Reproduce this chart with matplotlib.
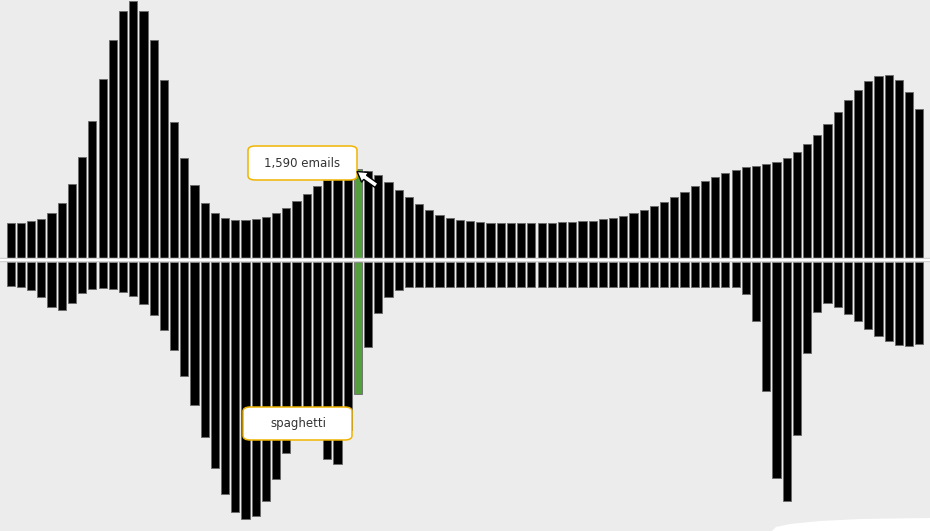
import numpy as np
import matplotlib
matplotlib.use('Agg')
import matplotlib.pyplot as plt
from matplotlib.patches import FancyBboxPatch, Polygon

# emails per bar (upper half)
emails = [617, 627, 658, 694, 797, 988, 1325, 1812, 2461, 3218,
          3927, 4444, 4630, 4439, 3916, 3200, 2448, 1799, 1302, 988,
          802, 707, 671, 671, 694, 730, 802, 892, 1013, 1145,
          1289, 1397, 1469, 1542, 1590, 1560, 1487, 1361, 1217, 1085,
          959, 856, 766, 712, 676, 658, 640, 627, 627, 627,
          622, 622, 622, 627, 640, 645, 658, 664, 694, 718,
          748, 797, 851, 923, 1001, 1091, 1181, 1284, 1374, 1451,
          1524, 1578, 1626, 1650, 1686, 1722, 1794, 1897, 2041, 2209,
          2412, 2623, 2840, 3020, 3182, 3272, 3285, 3195, 2979, 2677]

# "spaghetti" mentions per bar (lower half)
spaghetti = [427, 451, 499, 631, 806, 860, 728, 559, 481, 463,
             487, 535, 613, 746, 945, 1221, 1587, 2050, 2578, 3150,
             3703, 4178, 4502, 4634, 4580, 4304, 3907, 3438, 3114, 2988,
             3132, 3541, 3637, 3024, 2375, 1522, 920, 620, 494, 451,
             440, 440, 440, 440, 440, 440, 440, 440, 440, 440,
             440, 440, 440, 440, 440, 440, 440, 440, 440, 440,
             440, 440, 440, 440, 440, 440, 440, 440, 440, 440,
             445, 451, 566, 1064, 2320, 3889, 4304, 3119, 1641, 896,
             739, 806, 927, 1058, 1203, 1329, 1424, 1491, 1504, 1468]

highlight = 34
top_label = '1,590 emails'
bottom_label = 'spaghetti'

W, H = 930, 531
bg = '#ececec'
fig = plt.figure(figsize=(9.3, 5.31), dpi=100, facecolor=bg)
ax = fig.add_axes([0, 0, 1, 1])
ax.set_facecolor(bg)

x = np.arange(len(emails))
gap = 43
colors = ['black'] * len(emails)
colors[highlight] = '#559e3d'

ax.bar(x, emails, bottom=gap, width=0.8, color=colors,
       edgecolor='#6a6a6a', linewidth=0.6)
ax.bar(x, [-v for v in spaghetti], bottom=-gap, width=0.8, color=colors,
       edgecolor='#6a6a6a', linewidth=0.6)

ax.axhline(0, color='#d2d2d2', lw=3.2, zorder=3)
ax.axhline(0, color='white', lw=1.4, zorder=4)

ax.set_xlim(-1.048, 90.04)
ax.set_ylim(-4888, 4686)
ax.axis('off')


def px_box(x0, y0, x1, y1, text, tx, ty):
    box = FancyBboxPatch((x0 / W, 1 - y1 / H), (x1 - x0) / W, (y1 - y0) / H,
                         boxstyle='round,pad=0,rounding_size=0.008',
                         transform=fig.transFigure, facecolor='white',
                         edgecolor='#f0b400', linewidth=1.1, zorder=10)
    fig.patches.append(box)
    fig.text(tx / W, 1 - ty / H, text, ha='center', va='center',
             fontsize=8.5, color='#333333', zorder=11)


px_box(248, 146, 357, 180, top_label, 302, 163)
px_box(243, 407, 352, 440, bottom_label, 298, 423)

# mouse cursor
tip = np.array([357.0, 171.5])
d = np.array([21.0, 15.0])
d /= np.hypot(*d)
n = np.array([-d[1], d[0]])
pts = [tip, tip + 10 * d + 6 * n, tip + 10 * d + 2.5 * n, tip + 24 * d + 2.5 * n,
       tip + 24 * d - 2.5 * n, tip + 10 * d - 2.5 * n, tip + 10 * d - 6 * n]
pts = [(p[0] / W, 1 - p[1] / H) for p in pts]
fig.patches.append(Polygon(pts, closed=True, transform=fig.transFigure,
                           facecolor='white', edgecolor='black', lw=1.0, zorder=12))

# torn paper edge bottom right
edge = [(772, 531), (776, 527), (790, 524), (820, 521), (860, 519), (930, 518), (930, 531)]
fig.patches.append(Polygon([(a / W, 1 - b / H) for a, b in edge], closed=True,
                           transform=fig.transFigure, facecolor='white',
                           edgecolor='none', zorder=9))

fig.savefig('out.png', dpi=100, facecolor=bg)
